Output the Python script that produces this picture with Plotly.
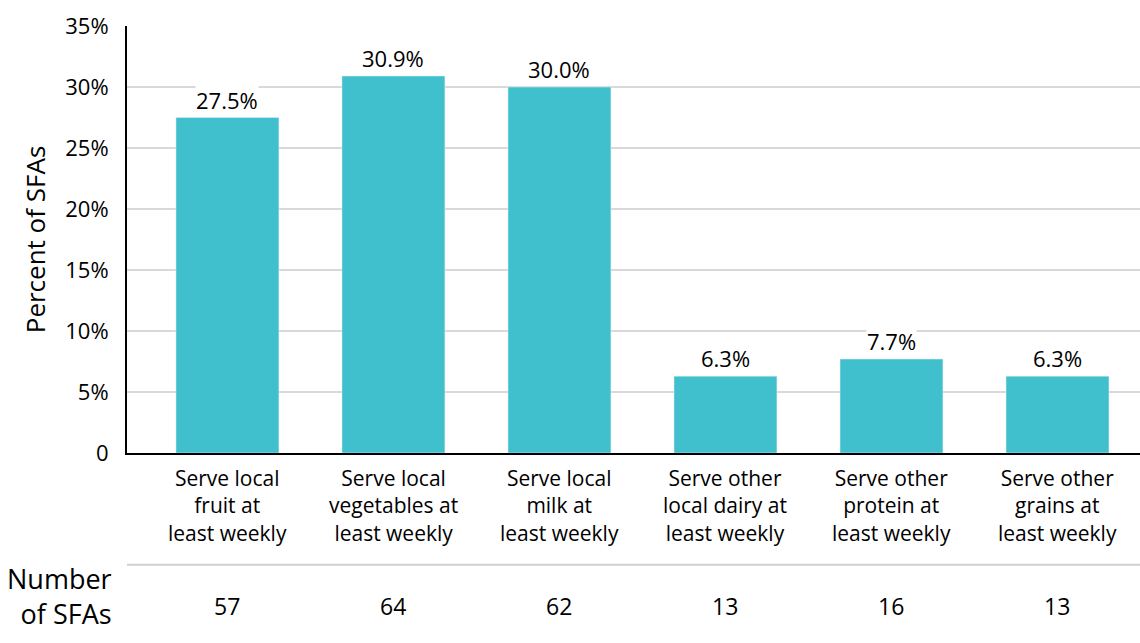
import plotly.graph_objects as go

categories = [
    "Serve local<br>fruit at<br>least weekly",
    "Serve local<br>vegetables at<br>least weekly",
    "Serve local<br>milk at<br>least weekly",
    "Serve other<br>local dairy at<br>least weekly",
    "Serve other<br>protein at<br>least weekly",
    "Serve other<br>grains at<br>least weekly",
]
percent_sfas = [27.5, 30.9, 30.0, 6.3, 7.7, 6.3]
number_sfas = [57, 64, 62, 13, 16, 13]
y_ticks = [0, 5, 10, 15, 20, 25, 30, 35]
y_tick_labels = ["0", "5%", "10%", "15%", "20%", "25%", "30%", "35%"]

FONT = "Open Sans, Calibri, sans-serif"
BAR = "#3FC0CC"
xpos = list(range(len(categories)))

fig = go.Figure(
    go.Bar(x=xpos, y=percent_sfas, marker_color=BAR, width=0.62, hoverinfo="skip")
)

# value labels over each bar, on a white box so the gridline is hidden behind them
for x, v in zip(xpos, percent_sfas):
    fig.add_annotation(
        x=x, y=v, text=f"{v:.1f}%", showarrow=False, yanchor="bottom", yshift=2,
        font=dict(family=FONT, size=22, color="#000"), bgcolor="white", borderpad=0,
    )

# category labels under the axis
for x, c in zip(xpos, categories):
    fig.add_annotation(
        x=x, y=-0.02, yref="paper", text=c, showarrow=False, yanchor="top",
        font=dict(family=FONT, size=21, color="#000"), align="center",
    )

# count row beneath the categories
for x, n in zip(xpos, number_sfas):
    fig.add_annotation(
        x=x, y=-0.358, yref="paper", text=str(n), showarrow=False, yanchor="middle",
        font=dict(family=FONT, size=23, color="#000"),
    )
fig.add_annotation(
    x=-0.013, xref="paper", y=-0.335, yref="paper", text="Number<br>of SFAs",
    showarrow=False, xanchor="right", yanchor="middle", align="right",
    font=dict(family=FONT, size=27, color="#000"),
)
fig.add_shape(
    type="line", xref="paper", yref="paper", x0=0, x1=1, y0=-0.262, y1=-0.262,
    line=dict(color="#d0d0d0", width=2),
)

fig.update_layout(
    width=1140, height=643,
    margin=dict(l=127, r=0, t=26, b=190),
    plot_bgcolor="white", paper_bgcolor="white",
    showlegend=False,
    font=dict(family=FONT, color="#000"),
    xaxis=dict(
        range=[-0.605, 5.497], showticklabels=False, showgrid=False,
        showline=True, linecolor="#000", linewidth=2, zeroline=False,
    ),
    yaxis=dict(
        range=[0, 35], tickvals=y_ticks, ticktext=y_tick_labels,
        tickfont=dict(family=FONT, size=22, color="#000"),
        showgrid=True, gridcolor="#d9d9d9", gridwidth=2,
        showline=True, linecolor="#000", linewidth=2, zeroline=False,
        ticks="", ticklen=0, ticklabelstandoff=12,
        title=dict(text="Percent of SFAs", font=dict(family=FONT, size=26, color="#000"), standoff=12),
    ),
)

fig.write_html("out.html")
